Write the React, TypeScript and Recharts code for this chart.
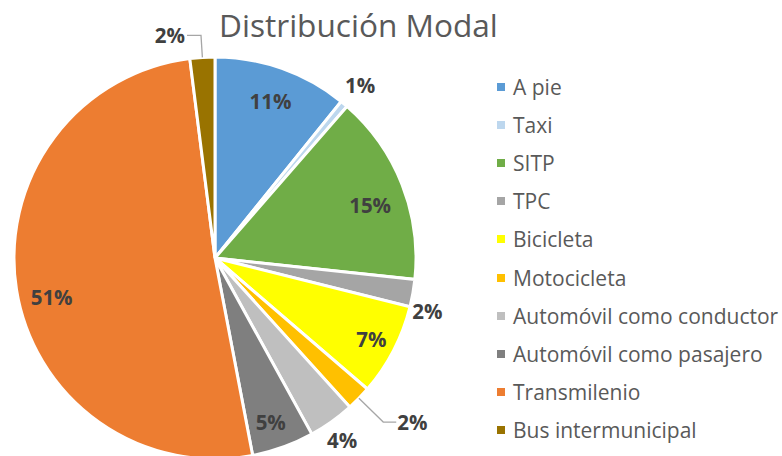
import React from 'react';
import { PieChart, Pie, Cell, Legend } from 'recharts';

const categories = [
  'A pie',
  'Taxi',
  'SITP',
  'TPC',
  'Bicicleta',
  'Motocicleta',
  'Automóvil como conductor',
  'Automóvil como pasajero',
  'Transmilenio',
  'Bus intermunicipal',
];
const shares = [10.8, 0.6, 15.3, 2.2, 7.4, 2.0, 3.7, 5.0, 51.0, 2.0];
const colors = [
  '#5B9BD5',
  '#BDD7EE',
  '#70AD47',
  '#A5A5A5',
  '#FFFF00',
  '#FFC000',
  '#BFBFBF',
  '#7F7F7F',
  '#ED7D31',
  '#997300',
];
const title = 'Distribución Modal';

const data = categories.map((name, i) => ({ name, value: shares[i] }));

// label placement: radius (px from centre), angular shift (deg, clockwise), leader line
type LabelLayout = { r: number; dA: number; leader?: { elbowR: number; dx: number } };
const labelLayout: Record<string, LabelLayout> = {
  'A pie': { r: 167, dA: 0 },
  Taxi: { r: 226, dA: 0 },
  SITP: { r: 164, dA: 2.5 },
  TPC: { r: 219, dA: 4 },
  Bicicleta: { r: 176, dA: 0 },
  Motocicleta: { r: 0, dA: 0, leader: { elbowR: 235, dx: 13 } },
  'Automóvil como conductor': { r: 222, dA: 0.5 },
  'Automóvil como pasajero': { r: 173, dA: 1 },
  Transmilenio: { r: 168, dA: -4.5 },
  'Bus intermunicipal': { r: 0, dA: 0, leader: { elbowR: 223, dx: -14 } },
};

const FONT = '"Open Sans", "Liberation Sans", sans-serif';
const RAD = Math.PI / 180;

function pt(cx: number, cy: number, r: number, clockDeg: number) {
  return { x: cx + r * Math.sin(clockDeg * RAD), y: cy - r * Math.cos(clockDeg * RAD) };
}

const renderLabel = (props: any) => {
  const { cx, cy, midAngle, outerRadius, percent, name } = props;
  const lay = labelLayout[name] || { r: outerRadius * 0.8, dA: 0 };
  const clock = 90 - midAngle + lay.dA;
  const text = `${Math.round(percent * 100)}%`;
  const style = { fontFamily: FONT, fontSize: 20.5, fontWeight: 700, fill: '#404040' } as const;
  if (lay.leader) {
    const a = pt(cx, cy, outerRadius, clock);
    const b = pt(cx, cy, lay.leader.elbowR, clock);
    const c = { x: b.x + lay.leader.dx, y: b.y };
    const tx = c.x + (lay.leader.dx > 0 ? 1 : -2);
    return (
      <g>
        <polyline points={`${a.x},${a.y} ${b.x},${b.y} ${c.x},${c.y}`} fill="none" stroke="#A6A6A6" strokeWidth={1.3} />
        <text x={tx} y={c.y} textAnchor={lay.leader.dx > 0 ? 'start' : 'end'} dominantBaseline="central" style={style}>
          {text}
        </text>
      </g>
    );
  }
  const p = pt(cx, cy, lay.r, clock);
  return (
    <text x={p.x} y={p.y} textAnchor="middle" dominantBaseline="central" style={style}>
      {text}
    </text>
  );
};

const renderLegend = () => (
  <div style={{ fontFamily: FONT }}>
    {categories.map((name, i) => (
      <div key={name} style={{ display: 'flex', alignItems: 'center', height: 38.1 }}>
        <span style={{ display: 'inline-block', width: 8, height: 8, background: colors[i], marginRight: 8, flex: 'none' }} />
        <span style={{ fontSize: 21, color: '#595959', whiteSpace: 'nowrap' }}>{name}</span>
      </div>
    ))}
  </div>
);

export default function App() {
  return (
    <div style={{ position: 'absolute', left: 0, top: 0, width: 782, height: 456, background: '#fff', overflow: 'hidden' }}>
      <div
        style={{
          position: 'absolute',
          left: 219,
          top: 0,
          fontFamily: FONT,
          fontSize: 31.6,
          color: '#595959',
          lineHeight: '50px',
          whiteSpace: 'nowrap',
          zIndex: 2,
          pointerEvents: 'none',
        }}
      >
        {title}
      </div>
      <PieChart width={782} height={456} margin={{ top: 0, right: 0, bottom: 0, left: 0 }}>
        <Pie
          data={data}
          dataKey="value"
          nameKey="name"
          cx={215}
          cy={258}
          outerRadius={201}
          startAngle={90}
          endAngle={-270}
          stroke="#FFFFFF"
          strokeWidth={3}
          label={renderLabel}
          labelLine={false}
          isAnimationActive={false}
        >
          {data.map((d, i) => (
            <Cell key={d.name} fill={colors[i]} />
          ))}
        </Pie>
        <Legend
          layout="vertical"
          align="right"
          verticalAlign="middle"
          content={renderLegend}
          wrapperStyle={{ left: 497, top: 68, right: 'auto', width: 285, height: 390 }}
        />
      </PieChart>
    </div>
  );
}
